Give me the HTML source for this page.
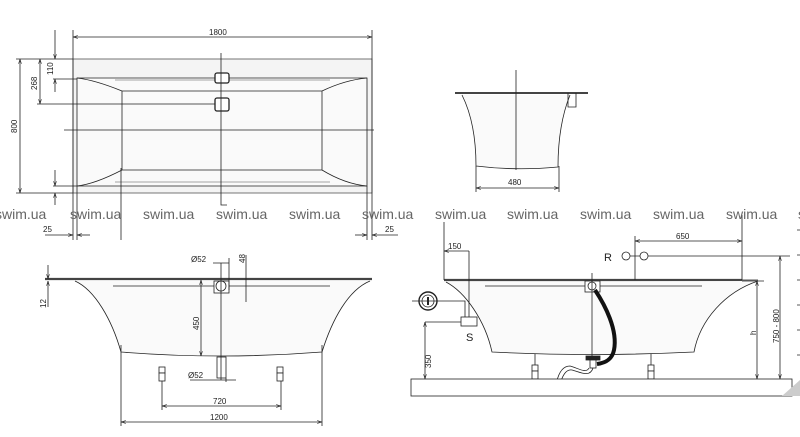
<!DOCTYPE html>
<html><head><meta charset="utf-8"><style>
html,body{margin:0;padding:0;background:#fff;width:800px;height:437px;overflow:hidden}
svg{display:block}
text{font-family:"Liberation Sans",sans-serif;fill:#222}
.d{font-size:8px}
.w{font-size:14px;fill:#666}
</style></head><body>
<svg width="800" height="437" viewBox="0 0 800 437" xmlns="http://www.w3.org/2000/svg">
<defs>
<marker id="a" viewBox="0 0 10 10" refX="10" refY="5" markerWidth="6" markerHeight="6" orient="auto-start-reverse"><path d="M0,2 L10,5 L0,8" fill="none" stroke="#222" stroke-width="1.2"/></marker>
</defs>
<g stroke="#222" stroke-width="0.8" fill="none">
<!-- TOP VIEW -->
<rect x="73" y="59" width="299" height="134" fill="#f4f4f4" stroke="#555"/>
<path d="M77,78 L367,78 L367,186 L77,186 Z" fill="#fafafa"/>
<path d="M77,78 Q95,80 122,91 L322,91 Q345,80 367,78"/>
<path d="M77,186 Q95,184 122,170 L322,170 Q345,184 367,186"/>
<path d="M122,91 L122,170 M322,91 L322,170"/>
<path d="M115,80 L330,80 M115,182 L330,182" stroke="#888"/>
<rect x="215" y="73" width="14" height="10" rx="2" fill="#fff" stroke-width="1.3"/>
<rect x="215" y="98" width="14" height="13" rx="2" fill="#fff" stroke-width="1.3"/>
<path d="M221,53 L221,205 L227,205 M64,130 L374,130 M37,104 L215,104 M121,168 L121,240"/>
<path d="M73,37 L372,37" marker-start="url(#a)" marker-end="url(#a)"/>
<path d="M73,30 L73,240 M77,186 L77,240 M372,30 L372,240 M367,186 L367,240"/>
<path d="M20,59 L20,193" marker-start="url(#a)" marker-end="url(#a)"/>
<path d="M16,59 L73,59 M16,193 L73,193"/>
<path d="M40,59 L40,104" marker-start="url(#a)" marker-end="url(#a)"/>
<path d="M55,30 L55,59" marker-end="url(#a)"/>
<path d="M55,79 L55,92" marker-start="url(#a)"/>
<path d="M53,79 L77,79 M53,186 L77,186"/>
<path d="M55,170 L55,186" marker-end="url(#a)"/>
<path d="M55,193 L55,205" marker-start="url(#a)"/>
<path d="M45,235 L73,235" marker-end="url(#a)"/><path d="M77,235 L90,235" marker-start="url(#a)"/>
<path d="M355,235 L367,235" marker-end="url(#a)"/><path d="M372,235 L398,235" marker-start="url(#a)"/>
<!-- FRONT VIEW -->
<path d="M45,279 L372,279" stroke="#444" stroke-width="2.2"/>
<path d="M75,281 C95,290 112,320 121,352 Q221,360 322,352 C332,320 348,290 370,281" fill="#fafafa"/>
<path d="M113,286 L330,286"/>
<rect x="214" y="281" width="15" height="12" fill="#fff"/><circle cx="221" cy="286" r="5"/>
<path d="M221,263 L221,380 M246,255 L246,302 M213,263 L229,263 M229,258 L229,290"/>
<path d="M201,280 L201,356" marker-start="url(#a)" marker-end="url(#a)"/>
<rect x="217" y="357" width="9" height="21"/>
<path d="M190,380 L236,380 M226,378 L226,382"/>
<g fill="#fff"><rect x="159" y="367" width="6" height="6"/><rect x="159" y="373" width="6" height="8"/><rect x="277" y="367" width="6" height="6"/><rect x="277" y="373" width="6" height="8"/></g>
<path d="M162,381 L162,410 M281,381 L281,410 M121,345 L121,426 M322,345 L322,426"/>
<path d="M162,406 L281,406" marker-start="url(#a)" marker-end="url(#a)"/>
<path d="M121,422 L322,422" marker-start="url(#a)" marker-end="url(#a)"/>
<path d="M48,265 L48,279" marker-end="url(#a)"/><path d="M48,281 L48,307" marker-start="url(#a)"/>
<!-- TOP RIGHT SECTION -->
<path d="M455,93 L588,93" stroke="#444" stroke-width="2"/>
<path d="M462,95 C472,115 476,140 476,166 Q516,171 558,167 C558,140 562,115 570,95" fill="#fafafa"/>
<path d="M568,93 L568,107 L576,107 L576,93"/>
<path d="M516,70 L516,170 M476,166 L476,192 M559,166 L559,192"/>
<path d="M476,188 L559,188" marker-start="url(#a)" marker-end="url(#a)"/>
<!-- SIDE VIEW -->
<path d="M444,280 L742,280" stroke="#444" stroke-width="2.2"/>
<path d="M446,282 C465,292 485,320 492,352 Q592,357 694,352 C700,320 725,292 758,281" fill="#fafafa"/>
<path d="M485,286 L702,286 M742,280 L758,280"/>
<path d="M444,222 L444,280 M742,215 L742,280 M635,236 L635,280"/>
<path d="M444,251 L469,251" marker-start="url(#a)"/>
<path d="M469,251 L469,326 M412,301 L465,301 L465,317"/>
<rect x="461" y="317" width="16" height="9" fill="#fff"/>
<circle cx="428" cy="301" r="9" stroke-width="1.4"/><circle cx="428" cy="301" r="6"/><path d="M428,297 L428,305" stroke-width="2"/>
<path d="M425,322 L461,322"/>
<path d="M425,322 L425,379" marker-start="url(#a)" marker-end="url(#a)"/>
<path d="M635,241 L742,241" marker-start="url(#a)" marker-end="url(#a)"/>
<circle cx="626" cy="256" r="4"/><circle cx="644" cy="256" r="4"/>
<path d="M630,256 L640,256 M648,256 L790,256 M742,281 L764,281"/>
<path d="M757,281 L757,379" marker-start="url(#a)" marker-end="url(#a)"/>
<path d="M780,256 L780,379" marker-start="url(#a)" marker-end="url(#a)"/>
<rect x="585" y="281" width="15" height="11" fill="#fff"/><circle cx="592" cy="286" r="4"/>
<path d="M592,273 L592,358"/>
<path d="M595,290 C605,305 618,330 614,350 C612,360 605,363 597,364" stroke="#111" stroke-width="4"/>
<rect x="586" y="356" width="14" height="4" fill="#222"/>
<rect x="590" y="360" width="6" height="8" fill="#fff"/>
<path d="M593,368 C590,378 580,372 572,370 C566,369 562,376 560,385 M589,368 C586,374 578,368 570,366 C562,366 558,374 556,385"/>
<g fill="#fff"><rect x="532" y="365" width="6" height="6"/><rect x="532" y="371" width="6" height="8"/><rect x="648" y="365" width="6" height="6"/><rect x="648" y="371" width="6" height="8"/></g>
<path d="M535,354 L535,365 M651,354 L651,365"/>
<rect x="411" y="379" width="381" height="17" fill="#fff"/>
<path d="M797,230 L800,230 M797,255 L800,255 M797,280 L800,280 M797,305 L800,305 M797,330 L800,330 M797,355 L800,355 M797,385 L800,385"/>
</g>
<path d="M782,396 L800,380 L800,396 Z" fill="#ccc"/>
<!-- TEXT -->
<text class="d" x="209" y="35">1800</text>
<text class="d" transform="translate(17,133) rotate(-90)">800</text>
<text class="d" transform="translate(37,90) rotate(-90)">268</text>
<text class="d" transform="translate(53,75) rotate(-90)">110</text>
<text class="d" x="43" y="232">25</text>
<text class="d" x="385" y="232">25</text>
<text class="d" x="191" y="262">Ø52</text>
<text class="d" transform="translate(245,263) rotate(-90)">48</text>
<text class="d" transform="translate(199,330) rotate(-90)">450</text>
<text class="d" x="188" y="378">Ø52</text>
<text class="d" x="213" y="404">720</text>
<text class="d" x="210" y="420">1200</text>
<text class="d" transform="translate(46,308) rotate(-90)">12</text>
<text class="d" x="508" y="185">480</text>
<text class="d" x="448" y="249">150</text>
<text class="d" x="676" y="239">650</text>
<text class="d" transform="translate(431,368) rotate(-90)">350</text>
<text class="d" transform="translate(756,335) rotate(-90)">h</text>
<text class="d" transform="translate(779,343) rotate(-90)">750 - 800</text>
<text x="604" y="261" style="font-size:11px">R</text>
<text x="466" y="341" style="font-size:11px">S</text>
<g class="w">
<text class="w" x="-5" y="219">swim.ua</text>
<text class="w" x="70" y="219">swim.ua</text>
<text class="w" x="143" y="219">swim.ua</text>
<text class="w" x="216" y="219">swim.ua</text>
<text class="w" x="289" y="219">swim.ua</text>
<text class="w" x="362" y="219">swim.ua</text>
<text class="w" x="435" y="219">swim.ua</text>
<text class="w" x="507" y="219">swim.ua</text>
<text class="w" x="580" y="219">swim.ua</text>
<text class="w" x="653" y="219">swim.ua</text>
<text class="w" x="726" y="219">swim.ua</text>
<text class="w" x="798" y="219">s</text>
</g>
</svg>
</body></html>
